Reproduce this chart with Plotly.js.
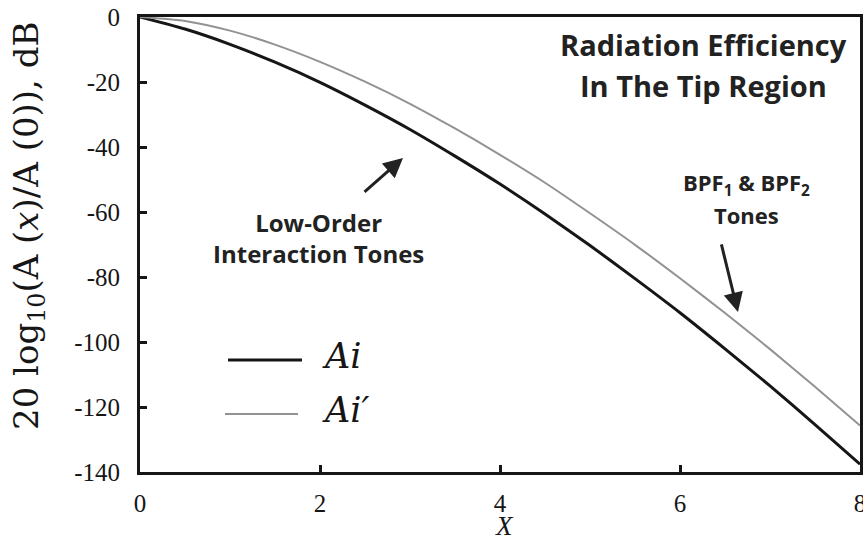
<!DOCTYPE html>
<html>
<head>
<meta charset="utf-8">
<script src="https://cdn.plot.ly/plotly-3.0.1.min.js"></script>
<style>
  html, body { margin: 0; padding: 0; background: #ffffff; }
  #chart { width: 863px; height: 543px; }
</style>
</head>
<body>
<div id="chart"></div>
<script>
// Normalised Airy-function decay in the tip region, in dB
const xValues = [0, 0.5, 1, 1.5, 2, 2.5, 3, 3.5, 4, 4.5, 5, 5.5, 6, 6.5, 7, 7.5, 8];
const aiDb = [0, -3.7, -8.4, -13.9, -20.1, -27.1, -34.6, -42.8, -51.4, -60.6, -70.3, -80.5, -91.0, -102.1, -113.5, -125.4, -137.6];
const aiPrimeDb = [0, -1.2, -4.2, -8.5, -13.8, -19.9, -26.7, -34.3, -42.4, -51.0, -60.4, -70.1, -80.4, -91.1, -102.2, -113.8, -125.7];
const seriesNames = ['<i>Ai</i>', '<i>Ai\u2032</i>'];

const xTickVals = [0, 2, 4, 6, 8];
const xTickText = ['0', '2', '4', '6', '8'];
const yTickVals = [0, -20, -40, -60, -80, -100, -120, -140];
const yTickText = ['0', '-20', '-40', '-60', '-80', '-100', '-120', '-140'];
const xInnerTicks = [2, 4, 6];
const yInnerTicks = [-20, -40, -60, -80, -100, -120];

const INK = '#161616';
const GREY = '#929292';
const serif = 'Liberation Serif, serif';
const sans = 'Open Sans, Noto Sans, sans-serif';

const traces = [
  { x: xValues, y: aiDb, name: seriesNames[0], mode: 'lines',
    line: { color: INK, width: 3, shape: 'spline', smoothing: 0.6 }, showlegend: false },
  { x: xValues, y: aiPrimeDb, name: seriesNames[1], mode: 'lines',
    line: { color: GREY, width: 2, shape: 'spline', smoothing: 0.6 }, showlegend: false }
];

// paper-coordinate helpers for the hand-placed key and labels
const px = v => (v - 140) / 720;
const py = v => 1 - (v - 17) / 455;

const layout = {
  width: 863, height: 543,
  margin: { l: 140, r: 3, t: 17, b: 71 },
  paper_bgcolor: '#ffffff', plot_bgcolor: '#ffffff',
  showlegend: false,
  xaxis: {
    range: [0, 8], tickmode: 'array', tickvals: xTickVals, ticktext: xTickText,
    ticks: 'inside', ticklen: 7, tickwidth: 3, tickcolor: INK,
    showline: true, mirror: true, linewidth: 3, linecolor: INK,
    showgrid: false, zeroline: false, ticklabelstandoff: 7, ticklabeloverflow: 'allow',
    tickfont: { family: serif, size: 25, color: INK }
  },
  xaxis2: {
    overlaying: 'x', anchor: 'y', side: 'bottom', range: [0, 8],
    tickmode: 'array', tickvals: xInnerTicks, showticklabels: false,
    ticks: 'outside', ticklen: 7, tickwidth: 3, tickcolor: INK,
    showline: false, showgrid: false, zeroline: false
  },
  yaxis: {
    range: [-140, 0], tickmode: 'array', tickvals: yTickVals, ticktext: yTickText,
    ticks: 'inside', ticklen: 7, tickwidth: 3, tickcolor: INK,
    showline: true, mirror: true, linewidth: 3, linecolor: INK,
    showgrid: false, zeroline: false, ticklabelstandoff: 12, ticklabeloverflow: 'allow',
    tickfont: { family: serif, size: 25, color: INK }
  },
  yaxis2: {
    overlaying: 'y', anchor: 'x', side: 'left', range: [-140, 0],
    tickmode: 'array', tickvals: yInnerTicks, showticklabels: false,
    ticks: 'outside', ticklen: 7, tickwidth: 3, tickcolor: INK,
    showline: false, showgrid: false, zeroline: false
  },
  shapes: [
    { type: 'line', xref: 'paper', yref: 'paper', x0: px(228), x1: px(302), y0: py(360), y1: py(360),
      line: { color: INK, width: 3 } },
    { type: 'line', xref: 'paper', yref: 'paper', x0: px(225), x1: px(298), y0: py(414), y1: py(414),
      line: { color: GREY, width: 2 } }
  ],
  annotations: [
    { xref: 'paper', yref: 'paper', x: px(504), y: py(543), xanchor: 'center', yanchor: 'bottom',
      showarrow: false, text: '<i>X</i>',
      font: { family: serif, size: 27, color: INK } },
    { xref: 'paper', yref: 'paper', x: px(29), y: py(226), xanchor: 'center', yanchor: 'middle',
      textangle: -90, showarrow: false,
      text: '20 log<sub>10</sub>(A (<i>x</i>)/A (0)), dB',
      font: { family: 'DejaVu Serif, serif', size: 34, color: INK } },
    { xref: 'paper', yref: 'paper', x: px(703), y: py(44), xanchor: 'center', yanchor: 'middle',
      showarrow: false, text: 'Radiation Efficiency',
      font: { family: sans, size: 29, color: '#222', weight: 'bold' } },
    { xref: 'paper', yref: 'paper', x: px(703), y: py(85), xanchor: 'center', yanchor: 'middle',
      showarrow: false, text: 'In The Tip Region',
      font: { family: sans, size: 29, color: '#222', weight: 'bold' } },
    { xref: 'paper', yref: 'paper', x: px(318), y: py(238), xanchor: 'center', yanchor: 'middle',
      showarrow: false, text: 'Low-Order<br>Interaction Tones',
      font: { family: sans, size: 24, color: '#222', weight: 'bold' } },
    { xref: 'paper', yref: 'paper', x: px(746), y: py(184), xanchor: 'center', yanchor: 'middle',
      showarrow: false, text: 'BPF<sub>1</sub> &amp; BPF<sub>2</sub>',
      font: { family: sans, size: 22, color: '#222', weight: 'bold' } },
    { xref: 'paper', yref: 'paper', x: px(746), y: py(215), xanchor: 'center', yanchor: 'middle',
      showarrow: false, text: 'Tones',
      font: { family: sans, size: 22, color: '#222', weight: 'bold' } },
    { x: 2.922, y: -43.4, ax: 2.478, ay: -54.2, axref: 'x', ayref: 'y', xref: 'x', yref: 'y',
      text: '', showarrow: true, arrowhead: 2, arrowsize: 1.3, arrowwidth: 3, arrowcolor: '#222', standoff: 0 },
    { x: 6.644, y: -90.8, ax: 6.456, ay: -69.5, axref: 'x', ayref: 'y', xref: 'x', yref: 'y',
      text: '', showarrow: true, arrowhead: 2, arrowsize: 1.3, arrowwidth: 3, arrowcolor: '#222', standoff: 0 },
    { xref: 'paper', yref: 'paper', x: px(320), y: py(356), xanchor: 'left', yanchor: 'middle',
      showarrow: false, text: seriesNames[0],
      font: { family: 'DejaVu Serif, serif', size: 35, color: INK } },
    { xref: 'paper', yref: 'paper', x: px(320), y: py(410), xanchor: 'left', yanchor: 'middle',
      showarrow: false, text: seriesNames[1],
      font: { family: 'DejaVu Serif, serif', size: 35, color: INK } }
  ]
};

Plotly.newPlot('chart', traces, layout, { staticPlot: true, displayModeBar: false });
</script>
</body>
</html>
